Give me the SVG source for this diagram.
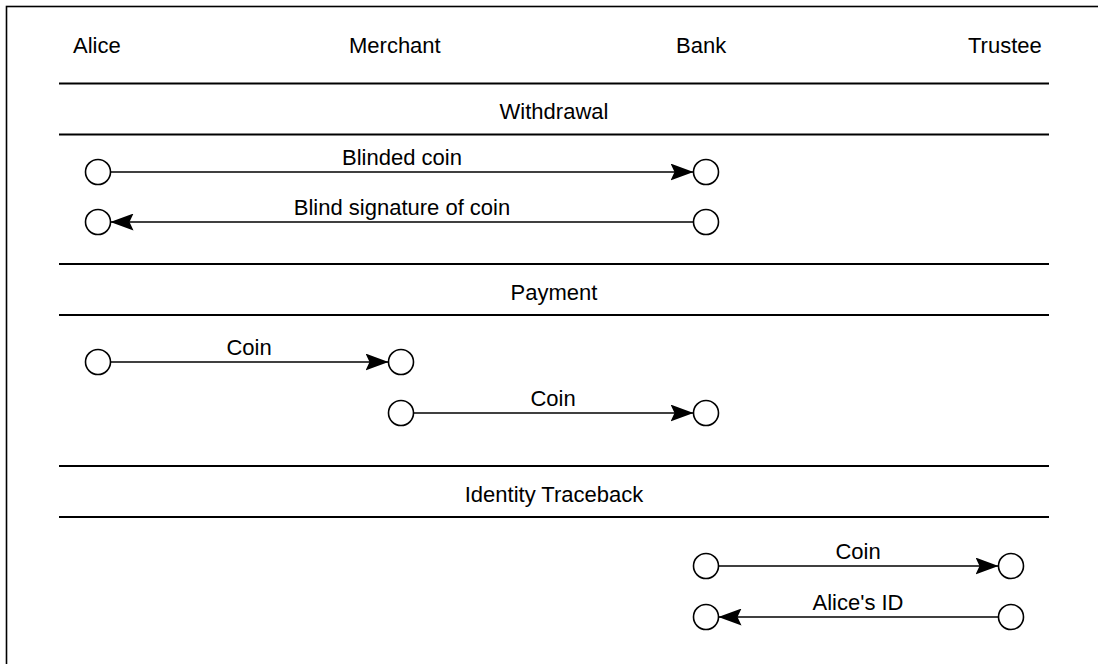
<svg xmlns="http://www.w3.org/2000/svg" width="1098" height="664" viewBox="0 0 1098 664">
  <defs>
    <style>
      text { font-family: "Liberation Sans", Arial, sans-serif; font-size: 22px; fill: #000; }
      .mid { text-anchor: middle; }
      .sep { stroke: #000; stroke-width: 2; }
      .node { fill: #fff; stroke: #000; stroke-width: 1.6; }
      .conn { stroke: #000; stroke-width: 1.6; fill: none; marker-end: url(#arrow); }
    </style>
    <marker id="arrow" markerUnits="userSpaceOnUse" viewBox="0 0 23 17" markerWidth="23" markerHeight="17" refX="23" refY="8.5" orient="auto">
      <path d="M0,0 L23,8.5 L0,17 L4,8.5 Z" fill="#000"/>
    </marker>
  </defs>
  <rect width="1098" height="664" fill="#fff"/>
  <rect x="6.5" y="6.5" width="1200" height="800" fill="none" stroke="#000" stroke-width="1.6"/>

  <g id="headers">
    <text x="73" y="53">Alice</text>
    <text x="349" y="53">Merchant</text>
    <text x="676" y="53">Bank</text>
    <text x="968" y="53">Trustee</text>
  </g>

  <g id="sections">
    <line class="sep" x1="59" y1="83.5" x2="1049" y2="83.5"/>
    <text class="mid" x="554" y="119">Withdrawal</text>
    <line class="sep" x1="59" y1="134.5" x2="1049" y2="134.5"/>
    <line class="sep" x1="59" y1="264" x2="1049" y2="264"/>
    <text class="mid" x="554" y="300">Payment</text>
    <line class="sep" x1="59" y1="315" x2="1049" y2="315"/>
    <line class="sep" x1="59" y1="466" x2="1049" y2="466"/>
    <text class="mid" x="554" y="502">Identity Traceback</text>
    <line class="sep" x1="59" y1="517" x2="1049" y2="517"/>
  </g>

  <g id="connectors">
    <line class="conn" x1="110.5" y1="172" x2="693.5" y2="172"/>
    <line class="conn" x1="693.5" y1="222" x2="110.5" y2="222"/>
    <line class="conn" x1="110.5" y1="362" x2="388.5" y2="362"/>
    <line class="conn" x1="413.5" y1="413" x2="693.5" y2="413"/>
    <line class="conn" x1="718.5" y1="566" x2="998.5" y2="566"/>
    <line class="conn" x1="998.5" y1="617" x2="718.5" y2="617"/>
  </g>

  <g id="labels">
    <text class="mid" x="402" y="165">Blinded coin</text>
    <text class="mid" x="402" y="215">Blind signature of coin</text>
    <text class="mid" x="249" y="355">Coin</text>
    <text class="mid" x="553" y="406">Coin</text>
    <text class="mid" x="858" y="559">Coin</text>
    <text class="mid" x="858" y="610">Alice's ID</text>
  </g>

  <g id="n-w1-alice"><circle class="node" cx="98" cy="172" r="12.5"/></g>
  <g id="n-w1-bank"><circle class="node" cx="706" cy="172" r="12.5"/></g>
  <g id="n-w2-alice"><circle class="node" cx="98" cy="222" r="12.5"/></g>
  <g id="n-w2-bank"><circle class="node" cx="706" cy="222" r="12.5"/></g>
  <g id="n-p1-alice"><circle class="node" cx="98" cy="362" r="12.5"/></g>
  <g id="n-p1-merchant"><circle class="node" cx="401" cy="362" r="12.5"/></g>
  <g id="n-p2-merchant"><circle class="node" cx="401" cy="413" r="12.5"/></g>
  <g id="n-p2-bank"><circle class="node" cx="706" cy="413" r="12.5"/></g>
  <g id="n-t1-bank"><circle class="node" cx="706" cy="566" r="12.5"/></g>
  <g id="n-t1-trustee"><circle class="node" cx="1011" cy="566" r="12.5"/></g>
  <g id="n-t2-bank"><circle class="node" cx="706" cy="617" r="12.5"/></g>
  <g id="n-t2-trustee"><circle class="node" cx="1011" cy="617" r="12.5"/></g>
</svg>
